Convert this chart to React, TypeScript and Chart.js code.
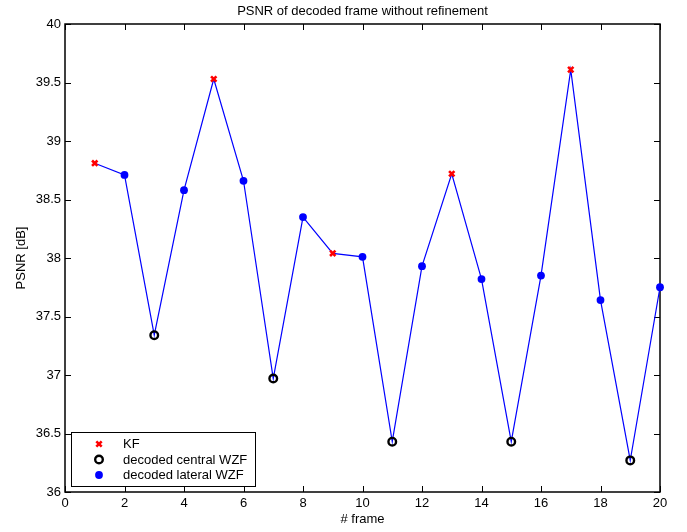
import React, { useEffect, useRef } from "react";
import { Chart, registerables } from "chart.js";
import { drawPoint } from "chart.js/helpers";

Chart.register(...registerables);

const frames = [1, 2, 3, 4, 5, 6, 7, 8, 9, 10, 11, 12, 13, 14, 15, 16, 17, 18, 19, 20];
const psnr = [38.81, 38.71, 37.34, 38.58, 39.53, 38.66, 36.97, 38.35, 38.04, 38.01, 36.43, 37.93, 38.72, 37.82, 36.43, 37.85, 39.61, 37.64, 36.27, 37.75];
const kfFrames = [1, 5, 9, 13, 17];
const centralFrames = [3, 7, 11, 15, 19];
const lateralFrames = [2, 4, 6, 8, 10, 12, 14, 16, 18, 20];
const xTicks = [0, 2, 4, 6, 8, 10, 12, 14, 16, 18, 20];
const yTicks = [36, 36.5, 37, 37.5, 38, 38.5, 39, 39.5, 40];
const seriesLabels = ["KF", "decoded central WZF", "decoded lateral WZF"];
const titleText = "PSNR of decoded frame without refinement";
const xTitle = "# frame";
const yTitle = "PSNR [dB]";

const FONT = "'Liberation Sans', Arial, Helvetica, sans-serif";

function pick(list: number[]) {
  return list.map((f) => ({ x: f, y: psnr[frames.indexOf(f)] }));
}

const framePlugin = {
  id: "matlabFrame",
  beforeDatasetsDraw(chart: any) {
    const { ctx, chartArea, scales } = chart;
    const { left, right, top, bottom } = chartArea;
    const x = scales.x;
    const y = scales.y;
    const L = 6;
    ctx.save();
    ctx.strokeStyle = "#000";
    ctx.lineWidth = 1;
    ctx.beginPath();
    x.ticks.forEach((t: any) => {
      const px = Math.round(x.getPixelForValue(t.value)) + 0.5;
      ctx.moveTo(px, bottom);
      ctx.lineTo(px, bottom - L);
      ctx.moveTo(px, top);
      ctx.lineTo(px, top + L);
    });
    y.ticks.forEach((t: any) => {
      const py = Math.round(y.getPixelForValue(t.value)) + 0.5;
      ctx.moveTo(left, py);
      ctx.lineTo(left + L, py);
      ctx.moveTo(right, py);
      ctx.lineTo(right - L, py);
    });
    ctx.stroke();
    ctx.lineWidth = 1.5;
    ctx.strokeRect(left, top, right - left, bottom - top);
    ctx.restore();
  },
  afterDraw(chart: any) {
    const { ctx, chartArea } = chart;
    const { left, right, bottom } = chartArea;
    ctx.save();
    // title
    ctx.fillStyle = "#000";
    ctx.font = `13px ${FONT}`;
    ctx.textAlign = "center";
    ctx.textBaseline = "middle";
    ctx.fillText(titleText, (left + right) / 2, 11);

    // legend
    ctx.font = `13px ${FONT}`;
    const items = chart.data.datasets.slice(1);
    let maxW = 0;
    items.forEach((d: any) => {
      maxW = Math.max(maxW, ctx.measureText(d.label).width);
    });
    const bx = left + 6;
    const bh = 54;
    const by = bottom - 6 - bh;
    const bw = 52 + maxW + 8;
    ctx.fillStyle = "#fff";
    ctx.fillRect(bx, by, bw, bh);
    ctx.strokeStyle = "#000";
    ctx.lineWidth = 1;
    ctx.strokeRect(Math.round(bx) + 0.5, Math.round(by) + 0.5, Math.round(bw), bh);
    const rows = [12, 27.5, 43];
    items.forEach((d: any, i: number) => {
      const cy = by + rows[i];
      ctx.fillStyle = d.pointBackgroundColor;
      ctx.strokeStyle = d.pointBorderColor;
      ctx.lineWidth = d.pointBorderWidth;
      drawPoint(
        ctx,
        {
          pointStyle: d.pointStyle,
          rotation: 0,
          radius: d.pointRadius,
          borderWidth: d.pointBorderWidth,
        } as any,
        bx + 28,
        cy
      );
      ctx.fillStyle = "#000";
      ctx.textAlign = "left";
      ctx.textBaseline = "middle";
      ctx.fillText(d.label, bx + 52, cy + 0.5);
    });
    ctx.restore();
  },
};

export default function App() {
  const ref = useRef<HTMLCanvasElement | null>(null);
  useEffect(() => {
    if (!ref.current) return;
    const lineData = frames.map((f, i) => ({ x: f, y: psnr[i] }));
    const chart = new Chart(ref.current, {
      type: "scatter",
      data: {
        datasets: [
          {
            label: "line",
            data: lineData,
            showLine: true,
            borderColor: "rgb(0,0,255)",
            borderWidth: 1.2,
            pointRadius: 0,
            pointHoverRadius: 0,
            clip: false,
            order: 10,
          } as any,
          {
            label: seriesLabels[0],
            data: pick(kfFrames),
            pointStyle: "crossRot",
            pointRadius: 3.8,
            pointBorderWidth: 2.6,
            pointBackgroundColor: "rgb(255,0,0)",
            pointBorderColor: "rgb(255,0,0)",
            clip: false,
            order: 1,
          },
          {
            label: seriesLabels[1],
            data: pick(centralFrames),
            pointStyle: "circle",
            pointRadius: 3.8,
            pointBorderWidth: 2.4,
            pointBackgroundColor: "rgba(0,0,0,0)",
            pointBorderColor: "#000",
            clip: false,
            order: 2,
          },
          {
            label: seriesLabels[2],
            data: pick(lateralFrames),
            pointStyle: "circle",
            pointRadius: 3.9,
            pointBorderWidth: 0,
            pointBackgroundColor: "rgb(0,0,255)",
            pointBorderColor: "rgb(0,0,255)",
            clip: false,
            order: 3,
          },
        ],
      },
      options: {
        responsive: false,
        animation: false,
        devicePixelRatio: 1,
        layout: { padding: { top: 24, right: 27, left: 0, bottom: 0 } },
        plugins: {
          legend: { display: false },
          title: { display: false },
          tooltip: { enabled: false },
        },
        scales: {
          x: {
            type: "linear",
            min: 0,
            max: 20,
            afterBuildTicks: (s: any) => {
              s.ticks = xTicks.map((v) => ({ value: v }));
            },
            afterFit: (s: any) => {
              s.height = 40;
            },
            grid: { display: false, drawTicks: false },
            border: { display: false },
            ticks: {
              padding: 4,
              color: "#000",
              font: { family: FONT, size: 13 },
              maxRotation: 0,
              autoSkip: false,
              callback: (v: any) => String(v),
            },
            title: {
              display: true,
              text: xTitle,
              color: "#000",
              font: { family: FONT, size: 13 },
              padding: { top: 0, bottom: 5 },
            },
          },
          y: {
            type: "linear",
            min: 36,
            max: 40,
            afterBuildTicks: (s: any) => {
              s.ticks = yTicks.map((v) => ({ value: v }));
            },
            afterFit: (s: any) => {
              s.width = 65;
            },
            grid: { display: false, drawTicks: false },
            border: { display: false },
            ticks: {
              padding: 4,
              color: "#000",
              font: { family: FONT, size: 13 },
              autoSkip: false,
              callback: (v: any) => String(Math.round(v * 10) / 10),
            },
            title: {
              display: true,
              text: yTitle,
              color: "#000",
              font: { family: FONT, size: 13 },
              padding: { top: 14, bottom: 0 },
            },
          },
        },
      },
      plugins: [framePlugin],
    });
    return () => chart.destroy();
  }, []);
  return (
    <div style={{ position: "fixed", left: 0, top: 0, width: 687, height: 532, background: "#fff" }}>
      <canvas ref={ref} width={687} height={532} style={{ width: 687, height: 532, display: "block" }} />
    </div>
  );
}
